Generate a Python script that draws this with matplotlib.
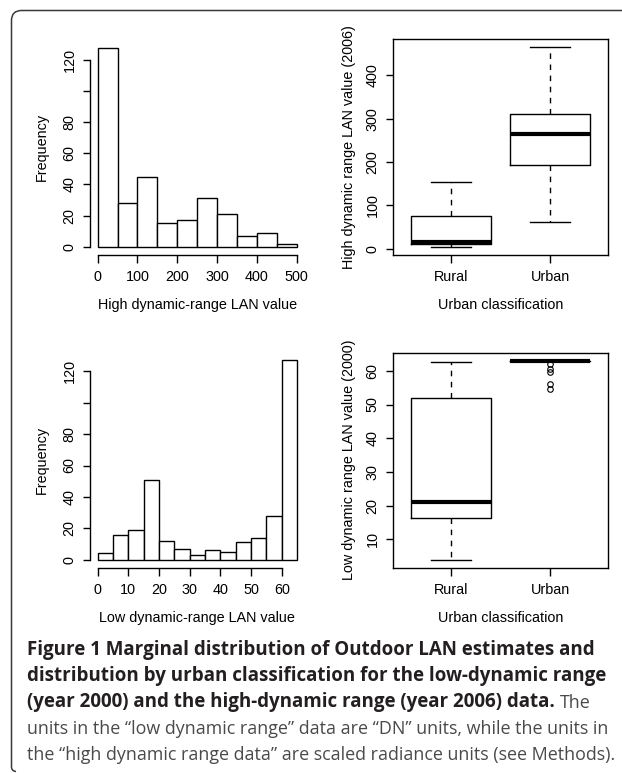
import numpy as np
import matplotlib
matplotlib.use("Agg")
import matplotlib.pyplot as plt
from matplotlib.path import Path
from matplotlib.patches import PathPatch

# ---- data ----
high_edges = [0, 50, 100, 150, 200, 250, 300, 350, 400, 450, 500]
high_counts = [128, 28, 45, 15, 17, 31, 21, 7, 9, 2]

low_edges = [0, 5, 10, 15, 20, 25, 30, 35, 40, 45, 50, 55, 60, 65]
low_counts = [4, 16, 19, 51, 12, 7, 3, 6, 5, 11, 14, 28, 127]

groups = ["Rural", "Urban"]
# whislo, q1, med, q3, whishi
high_rural = [4, 11, 15, 75, 154]
high_urban = [61, 194, 264, 310, 465]
low_rural = [4, 16.5, 21, 52, 62.5]
low_urban = [63, 63, 63, 63, 63]
low_urban_fliers = [62, 60.5, 59.5, 56, 54.5]

W, H = 622, 773
plt.rcParams['font.family'] = ['Liberation Sans', 'DejaVu Sans']
plt.rcParams['font.size'] = 10.4

fig = plt.figure(figsize=(W / 100, H / 100), dpi=100)


def px_axes(l, t, r, b):
    return fig.add_axes([l / W, 1 - b / H, (r - l) / W, (b - t) / H])


def r_lim(lo, hi):
    # R style 4% padding
    d = (hi - lo) * 0.04
    return lo - d, hi + d


def style_ticks(ax):
    ax.tick_params(direction='out', length=5.4, width=1.0, colors='black',
                   labelsize=10.4)
    ax.tick_params(axis='y', labelrotation=90, pad=4.0)
    ax.tick_params(axis='x', pad=5.5)
    for lab in ax.get_yticklabels():
        lab.set_va('center')


def hist_panel(ax, edges, counts, xticks, yticks, ylabels, xlabel):
    ax.bar(edges[:-1], counts, width=np.diff(edges), align='edge',
           color='white', edgecolor='black', linewidth=1.0)
    ax.set_xlim(*r_lim(edges[0], edges[-1]))
    ax.set_ylim(*r_lim(0, max(counts)))
    for s in ['top', 'right']:
        ax.spines[s].set_visible(False)
    ax.spines['left'].set_bounds(yticks[0], yticks[-1])
    ax.spines['bottom'].set_bounds(xticks[0], xticks[-1])
    for s in ['left', 'bottom']:
        ax.spines[s].set_linewidth(1.0)
    ax.set_xticks(xticks)
    ax.set_yticks(yticks, ylabels)
    style_ticks(ax)
    ax.set_ylabel('Frequency', labelpad=10)
    ax.set_xlabel(xlabel, labelpad=10)


def box_panel(ax, stats, fliers, yticks, ylabel):
    bx = []
    for st, fl in zip(stats, fliers):
        bx.append(dict(whislo=st[0], q1=st[1], med=st[2], q3=st[3],
                       whishi=st[4], fliers=fl))
    ax.bxp(bx, positions=[1, 2], widths=0.8, capwidths=0.4,
           boxprops=dict(color='black', linewidth=1.0),
           whiskerprops=dict(color='black', linewidth=1.0, linestyle=(0, (4, 4))),
           capprops=dict(color='black', linewidth=1.0),
           medianprops=dict(color='black', linewidth=3.0, solid_capstyle='butt'),
           flierprops=dict(marker='o', markerfacecolor='none',
                           markeredgecolor='black', markersize=4,
                           markeredgewidth=0.8))
    vals = [v for st in stats for v in st] + [v for fl in fliers for v in fl]
    ax.set_ylim(*r_lim(min(vals), max(vals)))
    ax.set_xlim(*r_lim(0.5, 2.5))
    ax.set_xticks([1, 2], groups)
    ax.set_yticks(yticks)
    for s in ax.spines.values():
        s.set_linewidth(1.0)
    style_ticks(ax)
    ax.set_ylabel(ylabel, labelpad=7)
    ax.set_xlabel('Urban classification', labelpad=10)


ax1 = px_axes(89.7, 39.6, 304.7, 254.7)
hist_panel(ax1, high_edges, high_counts, [0, 100, 200, 300, 400, 500],
           [0, 20, 40, 60, 80, 100, 120], ['0', '20', '40', '60', '80', '', '120'],
           'High dynamic-range LAN value')

ax3 = px_axes(89.7, 352.4, 305.0, 567.7)
hist_panel(ax3, low_edges, low_counts, [0, 10, 20, 30, 40, 50, 60],
           [0, 20, 40, 60, 80, 100, 120], ['0', '20', '40', '60', '80', '', '120'],
           'Low dynamic-range LAN value')

ax2 = px_axes(392.7, 39.3, 608.3, 255.0)
box_panel(ax2, [high_rural, high_urban], [[], []], [0, 100, 200, 300, 400],
          'High dynamic range LAN value (2006)')

ax4 = px_axes(392.7, 352.7, 608.3, 567.7)
box_panel(ax4, [low_rural, low_urban], [[], low_urban_fliers],
          [10, 20, 30, 40, 50, 60], 'Low dynamic range LAN value (2000)')

# ---- frame and caption on an overlay in pixel coordinates ----
cap = fig.add_axes([0, 0, 1, 1], zorder=-1)
cap.set_xlim(0, W)
cap.set_ylim(H, 0)
cap.set_axis_off()

r = 10
verts = [(W, 10.5), (11.5 + r, 10.5), (11.5, 10.5), (11.5, 10.5 + r),
         (11.5, H - 6), (11.5, H - 2), (16, H - 1.5)]
codes = [Path.MOVETO, Path.LINETO, Path.CURVE3, Path.CURVE3,
         Path.LINETO, Path.CURVE3, Path.CURVE3]
cap.add_patch(PathPatch(Path(verts, codes), facecolor='none',
                        edgecolor='#3a3a3a', linewidth=1.1))

cap_font = ['Open Sans', 'DejaVu Sans']
bold_size = 13.5
plain_size = 12.9
x0 = 27
bold_lines = ["Figure 1 Marginal distribution of Outdoor LAN estimates and",
              "distribution by urban classification for the low-dynamic range",
              "(year 2000) and the high-dynamic range (year 2006) data."]
plain_lines = ["units in the \u201clow dynamic range\u201d data are \u201cDN\u201d units, while the units in",
               "the \u201chigh dynamic range data\u201d are scaled radiance units (see Methods)."]
baselines = [655, 681.5, 707.5, 733.5, 759.5]

last = None
for i, line in enumerate(bold_lines):
    last = cap.text(x0, baselines[i], line, family=cap_font, size=bold_size,
                    weight='bold', color='#231f20', va='baseline', ha='left')
fig.canvas.draw()
bb = last.get_window_extent()
cap.text(bb.x1 + 5, baselines[2], 'The', family=cap_font, size=plain_size,
         color='#4a4a4a', va='baseline', ha='left')
for i, line in enumerate(plain_lines):
    cap.text(x0, baselines[3 + i], line, family=cap_font, size=plain_size,
             color='#4a4a4a', va='baseline', ha='left')

fig.savefig('out.png', dpi=100)
